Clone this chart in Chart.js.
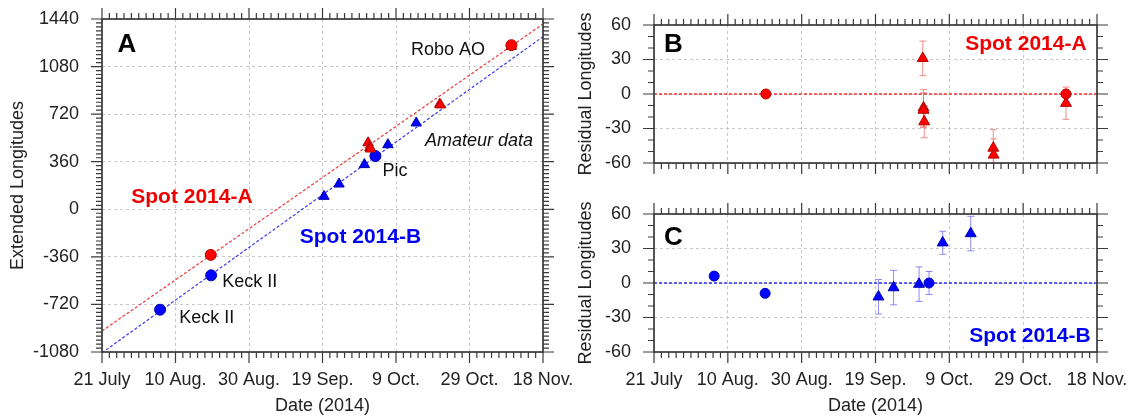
<!DOCTYPE html>
<html>
<head>
<meta charset="utf-8">
<script src="https://cdn.jsdelivr.net/npm/chart.js@4.4.1/dist/chart.umd.min.js"></script>
<style>
  body { margin: 0; background: #fff; }
  .box { position: absolute; }
</style>
</head>
<body>
<div class="box" style="left:0;top:0;width:590px;height:417px"><canvas id="chartA"></canvas></div>
<div class="box" style="left:560px;top:0;width:587px;height:190px"><canvas id="chartB"></canvas></div>
<div class="box" style="left:560px;top:190px;width:587px;height:227px"><canvas id="chartC"></canvas></div>
<script>
// x axis = days after 21 July 2014
const tickDays = [0, 20, 40, 60, 80, 100, 120];
const tickLabels = ["21 July", "10 Aug.", "30 Aug.", "19 Sep.", "9 Oct.", "29 Oct.", "18 Nov."];

// A: extended longitudes
const redCircleDays = [29.6, 111.4];
const redCircleLon = [-345, 1242];
const redTriDays = [72.4, 72.9, 73.0, 73.1, 91.9, 92.1, 111.4];
const redTriLon = [503, 466, 464, 456, 795, 790, 1232];
const blueCircleDays = [15.8, 29.7, 74.4];
const blueCircleLon = [-760, -500, 403];
const blueTriDays = [60.4, 64.5, 71.4, 77.8, 85.5];
const blueTriLon = [98, 191, 338, 489, 653];
const fitDays = [0, 120];
const fitRedLon = [-921, 1402];
const fitBlueLon = [-1086, 1306];

// B: residuals of spot 2014-A
const resRedCircleDays = [30.3, 111.6];
const resRedCircle = [0, 0];
const resRedCircleErr = [0, 3];
const resRedTriDays = [72.8, 73.0, 73.0, 73.2, 91.9, 92.0, 111.6];
const resRedTri = [31, -12, -14, -24, -47, -53, -8];
const resRedTriErr = [15, 16, 15, 14, 16, 14, 14];

// C: residuals of spot 2014-B
const resBlueCircleDays = [16.3, 30.1, 74.5];
const resBlueCircle = [6, -9, 0];
const resBlueCircleErr = [0, 0, 10];
const resBlueTriDays = [60.8, 64.9, 71.8, 78.2, 85.8];
const resBlueTri = [-12, -4, -1, 35, 43];
const resBlueTriErr = [15, 15, 15, 10, 15];
const zeroLine = [0, 0];

const FONT = "'Liberation Sans', Arial, sans-serif";
Chart.defaults.font.family = FONT;
Chart.defaults.color = '#222';

const RED = '#ff0000', RED_EDGE = '#b00000';
const BLUE = '#0000ff', BLUE_EDGE = '#0000b0';

const pts = (xs, ys) => xs.map((x, i) => ({ x: x, y: ys[i] }));

// frame with minor+major ticks on all four sides
const frame = {
  id: 'frame',
  afterDraw(chart, args, o) {
    const { ctx, chartArea: ca, scales: { x, y } } = chart;
    ctx.save();
    ctx.strokeStyle = '#3a3a3a';
    ctx.lineWidth = 1.2;
    ctx.beginPath();
    for (let v = x.min; v <= x.max + 1e-6; v += o.xMinor) {
      const len = Math.abs(v % o.xMajor) < 1e-6 ? 11 : 6;
      const p = x.getPixelForValue(v);
      ctx.moveTo(p, ca.bottom); ctx.lineTo(p, ca.bottom + len);
      ctx.moveTo(p, ca.top); ctx.lineTo(p, ca.top - len);
    }
    for (let v = y.min; v <= y.max + 1e-6; v += o.yMinor) {
      const len = Math.abs((v - y.min) % o.yMajor) < 1e-6 ? 11 : 6;
      const p = y.getPixelForValue(v);
      ctx.moveTo(ca.left, p); ctx.lineTo(ca.left - len, p);
      ctx.moveTo(ca.right, p); ctx.lineTo(ca.right + len, p);
    }
    ctx.stroke();
    ctx.lineWidth = 1.7;
    ctx.strokeRect(ca.left, ca.top, ca.right - ca.left, ca.bottom - ca.top);
    ctx.restore();
  }
};

// vertical error bars from dataset.errorBars
const errorBars = {
  id: 'errorBars',
  beforeDatasetsDraw(chart) {
    const { ctx, chartArea: ca, scales: { x, y } } = chart;
    ctx.save();
    ctx.beginPath();
    ctx.rect(ca.left, ca.top, ca.right - ca.left, ca.bottom - ca.top);
    ctx.clip();
    ctx.lineWidth = 1;
    chart.data.datasets.forEach(ds => {
      if (!ds.errorBars) return;
      ctx.strokeStyle = ds.errorColor;
      ds.data.forEach((p, i) => {
        const e = ds.errorBars[i];
        if (!e) return;
        const px = x.getPixelForValue(p.x);
        const t = y.getPixelForValue(p.y + e);
        const b = y.getPixelForValue(p.y - e);
        ctx.beginPath();
        ctx.moveTo(px, t); ctx.lineTo(px, b);
        ctx.moveTo(px - 3.5, t); ctx.lineTo(px + 3.5, t);
        ctx.moveTo(px - 3.5, b); ctx.lineTo(px + 3.5, b);
        ctx.stroke();
      });
    });
    ctx.restore();
  }
};

// text labels placed in data coordinates
const notes = {
  id: 'notes',
  afterDraw(chart, args, o) {
    const { ctx, scales: { x, y } } = chart;
    ctx.save();
    ctx.textAlign = 'left';
    ctx.textBaseline = 'alphabetic';
    (o.items || []).forEach(n => {
      ctx.font = n.font;
      ctx.fillStyle = n.color || '#111';
      ctx.fillText(n.text, x.getPixelForValue(n.x), y.getPixelForValue(n.y));
    });
    ctx.restore();
  }
};

function xScale(showLabels, height) {
  return {
    type: 'linear', min: 0, max: 120,
    afterFit(s) { s.height = height; s.paddingLeft = 0; s.paddingRight = 0; },
    afterBuildTicks(s) { s.ticks = tickDays.map(v => ({ value: v })); },
    ticks: {
      display: showLabels, autoSkip: false, maxRotation: 0, padding: 17,
      font: { size: 18 }, color: '#222',
      callback: v => tickLabels[tickDays.indexOf(v)]
    },
    grid: { color: '#c8c8c8', lineWidth: 1, drawTicks: false },
    border: { display: false, dash: [3, 3] },
    title: { display: showLabels, text: 'Date (2014)', font: { size: 18 }, color: '#222', padding: 0 }
  };
}

function yScale(min, max, step, width, text, titlePad) {
  return {
    type: 'linear', min: min, max: max,
    afterFit(s) { s.width = width; s.paddingTop = 0; s.paddingBottom = 0; },
    ticks: { stepSize: step, padding: 23, font: { size: 18 }, color: '#222', callback: v => String(v) },
    grid: { color: '#c8c8c8', lineWidth: 1, drawTicks: false },
    border: { display: false, dash: [3, 3] },
    title: { display: true, text: text, font: { size: 18 }, color: '#222', padding: { top: titlePad, bottom: 0 } }
  };
}

function markers(data, style, fill, edge, radius, errs, errColor) {
  return {
    type: 'scatter', data: data, pointStyle: style, pointRadius: radius,
    backgroundColor: fill, borderColor: edge, borderWidth: 1,
    errorBars: errs, errorColor: errColor
  };
}

function fitLine(data, color, width) {
  return {
    type: 'line', data: data, borderColor: color, borderWidth: width,
    borderDash: [3, 2], pointRadius: 0, fill: false
  };
}

function makeChart(id, datasets, scales, padding, frameOpts, items) {
  return new Chart(document.getElementById(id), {
    data: { datasets: datasets },
    options: {
      responsive: true, maintainAspectRatio: false, animation: false, events: [],
      layout: { padding: padding },
      scales: scales,
      plugins: { legend: { display: false }, tooltip: { enabled: false }, frame: frameOpts, notes: { items: items } }
    },
    plugins: [errorBars, frame, notes]
  });
}

const bold = s => 'bold ' + s + 'px ' + FONT;
const reg = "18px " + FONT;

makeChart('chartA', [
  markers(pts(redCircleDays, redCircleLon), 'circle', RED, RED_EDGE, 5.5),
  markers(pts(redTriDays, redTriLon), 'triangle', RED, RED_EDGE, 6),
  markers(pts(blueCircleDays, blueCircleLon), 'circle', BLUE, BLUE_EDGE, 5.5),
  markers(pts(blueTriDays, blueTriLon), 'triangle', BLUE, BLUE_EDGE, 6),
  fitLine(pts(fitDays, fitRedLon), '#f03a3a', 1.2),
  fitLine(pts(fitDays, fitBlueLon), '#3a3af0', 1.2)
], {
  x: xScale(true, 65),
  y: yScale(-1080, 1440, 360, 102, 'Extended Longitudes', 7)
}, { top: 19, right: 47, left: 0, bottom: 0 },
{ xMinor: 2, xMajor: 20, yMinor: 30, yMajor: 360 }, [
  { text: 'A', x: 4.2, y: 1190, font: bold(26), color: '#000' },
  { text: 'Spot 2014-A', x: 7.95, y: 45, font: bold(21), color: '#f00000' },
  { text: 'Spot 2014-B', x: 53.8, y: -257, font: bold(21), color: '#0000f0' },
  { text: 'Keck II', x: 32.7, y: -591, font: reg },
  { text: 'Keck II', x: 21.0, y: -864, font: reg },
  { text: 'Pic', x: 76.3, y: 249, font: reg },
  { text: 'Robo AO', x: 84.1, y: 1164, font: reg },
  { text: 'Amateur data', x: 87.9, y: 476, font: 'italic ' + reg }
]);

makeChart('chartB', [
  markers(pts(resRedCircleDays, resRedCircle), 'circle', RED, RED_EDGE, 5, resRedCircleErr, 'rgba(240,110,110,0.8)'),
  markers(pts(resRedTriDays, resRedTri), 'triangle', RED, RED_EDGE, 6.3, resRedTriErr, 'rgba(240,110,110,0.8)'),
  fitLine(pts(fitDays, zeroLine), '#f03030', 1.5)
], {
  x: xScale(false, 27),
  y: yScale(-60, 60, 30, 94, 'Residual Longitudes', 15)
}, { top: 25, right: 50, left: 0, bottom: 0 },
{ xMinor: 2, xMajor: 20, yMinor: 10, yMajor: 30 }, [
  { text: 'B', x: 2.7, y: 36.5, font: bold(26), color: '#000' },
  { text: 'Spot 2014-A', x: 84.3, y: 38.3, font: bold(21), color: '#f00000' }
]);

makeChart('chartC', [
  markers(pts(resBlueCircleDays, resBlueCircle), 'circle', BLUE, BLUE_EDGE, 5, resBlueCircleErr, 'rgba(110,110,240,0.8)'),
  markers(pts(resBlueTriDays, resBlueTri), 'triangle', BLUE, BLUE_EDGE, 6.3, resBlueTriErr, 'rgba(110,110,240,0.8)'),
  fitLine(pts(fitDays, zeroLine), '#3030f0', 1.5)
], {
  x: xScale(true, 65),
  y: yScale(-60, 60, 30, 94, 'Residual Longitudes', 15)
}, { top: 24, right: 50, left: 0, bottom: 0 },
{ xMinor: 2, xMajor: 20, yMinor: 10, yMajor: 30 }, [
  { text: 'C', x: 2.7, y: 33, font: bold(26), color: '#000' },
  { text: 'Spot 2014-B', x: 85.4, y: -51, font: bold(21), color: '#0000f0' }
]);
</script>
</body>
</html>
